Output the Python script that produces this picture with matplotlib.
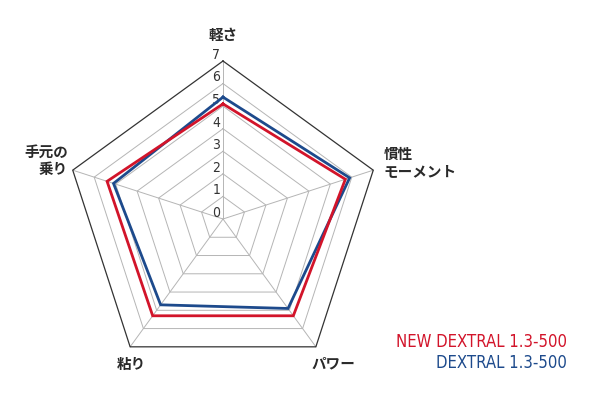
import numpy as np
import matplotlib
matplotlib.use("Agg")
import matplotlib.pyplot as plt

plt.rcParams['font.family'] = ['Noto Sans CJK JP', 'DejaVu Sans']

categories = ["軽さ", "慣性\nモーメント", "パワー", "粘り", "手元の\n乗り"]
new_dextral = [5.1, 5.7, 5.3, 5.3, 5.4]
dextral = [5.4, 5.9, 4.9, 4.7, 5.1]
series_names = ["NEW DEXTRAL 1.3-500", "DEXTRAL 1.3-500"]
levels = [0, 1, 2, 3, 4, 5, 6, 7]

red = '#d2142a'
blue = '#1d4a8c'

W, H = 600, 400
cx, cy = 223, 219
unit = 158 / 7.0

fig = plt.figure(figsize=(6, 4), dpi=100)
ax = fig.add_axes([0, 0, 1, 1])
ax.set_xlim(-cx / unit, (W - cx) / unit)
ax.set_ylim(-(H - cy) / unit, cy / unit)
ax.axis('off')

n = len(categories)
ang = np.pi / 2 - 2 * np.pi * np.arange(n) / n

def xy(vals):
    v = np.asarray(vals, dtype=float)
    x = v * np.cos(ang)
    y = v * np.sin(ang)
    return np.append(x, x[0]), np.append(y, y[0])

# grid pentagons
for lv in levels[1:]:
    gx, gy = xy([lv] * n)
    if lv == levels[-1]:
        ax.plot(gx, gy, color='#333333', lw=0.9, zorder=2)
    else:
        ax.plot(gx, gy, color='#b5b5b5', lw=0.7, zorder=1)
# spokes
for a in ang:
    ax.plot([0, levels[-1] * np.cos(a)], [0, levels[-1] * np.sin(a)],
            color='#b5b5b5', lw=0.7, zorder=1)

# tick labels
for lv in levels:
    ax.text(-0.3, lv + 0.27, str(lv), ha='center', va='center',
            fontsize=10, color='#333333', family=['DejaVu Sans'],
            fontstretch='condensed', zorder=3)

# series
bx, by = xy(dextral)
ax.plot(bx, by, color=blue, lw=2.0, zorder=4, solid_joinstyle='miter')
rx, ry = xy(new_dextral)
ax.plot(rx, ry, color=red, lw=2.0, zorder=5, solid_joinstyle='miter')

# category labels
R = levels[-1]
pos = [
    (0, R + 1.15, 'center', 'center'),
    (R * np.cos(ang[1]) + 0.45, R * np.sin(ang[1]) + 0.35, 'left', 'center'),
    (R * np.cos(ang[2]) - 0.2, R * np.sin(ang[2]) - 0.75, 'left', 'center'),
    (R * np.cos(ang[3]) - 0.6, R * np.sin(ang[3]) - 0.75, 'left', 'center'),
    (R * np.cos(ang[4]) - 0.2, R * np.sin(ang[4]) + 0.45, 'right', 'center'),
]
for lab, (x, y, ha, va) in zip(categories, pos):
    ax.text(x, y, lab, ha=ha, va=va, fontsize=10.5, fontweight='bold',
            color='#2a2a2a', linespacing=1.1, zorder=3)

# legend text
ax.text((567 - cx) / unit, (cy - 342) / unit, series_names[0], ha='right', va='center',
        fontsize=12, color=red, family=['DejaVu Sans'], fontstretch='condensed')
ax.text((567 - cx) / unit, (cy - 363) / unit, series_names[1], ha='right', va='center',
        fontsize=12, color=blue, family=['DejaVu Sans'], fontstretch='condensed')

fig.savefig('out.png', dpi=100)
